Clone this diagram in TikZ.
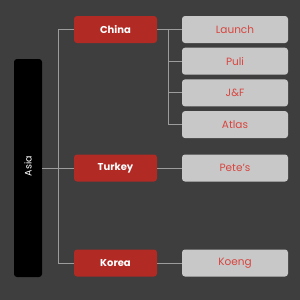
\documentclass[tikz,border=0pt]{standalone}
\usepackage{fontspec}
\setmainfont{Poppins}
\usetikzlibrary{positioning}
\definecolor{Back}{HTML}{3E3E3E}
\definecolor{Brick}{HTML}{B12A24}
\definecolor{Pale}{HTML}{C8C8C8}
\definecolor{PaleText}{HTML}{D8453F}
\definecolor{Wire}{HTML}{9C9C9C}
\begin{document}
\begin{tikzpicture}[x=1pt,y=-1pt,
    region/.style={fill=black,rounded corners=3pt,minimum width=28pt,minimum height=218pt,inner sep=0pt},
    country/.style={fill=Brick,rounded corners=3pt,minimum width=83pt,minimum height=27pt,inner sep=0pt,text=white,font=\fontsize{10}{12}\selectfont\bfseries},
    brand/.style={fill=Pale,rounded corners=3pt,minimum width=106pt,minimum height=27pt,inner sep=0pt,text=PaleText,font=\fontsize{10.5}{12}\selectfont},
    wire/.style={draw=Wire,line width=0.9pt}]
      \fill[Back] (0,0) rectangle (300,300);
      \useasboundingbox (0,0) rectangle (300,300);
      \node[region] (asia) at (28,168){};
      \node[rotate=90,text=white,font=\fontsize{9.5}{11}\selectfont] (asialabel) at (28,166){Asia};
      \node[country] (china) at (115.5,29.5){China};
      \node[country] (turkey) at (115.5,168){Turkey};
      \node[country] (korea) at (115.5,263){Korea};
      \node[brand] (launch) at (235,29.5){Launch};
      \node[brand] (puli) at (235,61.2){Puli};
      \node[brand] (jf) at (235,92.9){J\&F};
      \node[brand] (atlas) at (235,124.6){Atlas};
      \node[brand] (petes) at (235,168){Pete's};
      \node[brand] (koeng) at (235,263){Koeng};
      \coordinate (trunk) at (58,29.5);
      \coordinate (chinafork) at (168,29.5);
      % asia to countries
      \draw[wire] (china.west) -- (trunk) |- (korea.west);
      \draw[wire] (asia.east) -- (turkey.west);
      % countries to brands
      \draw[wire] (china.east) -- (launch.west);
      \draw[wire] (chinafork) |- (atlas.west);
      \draw[wire] (chinafork |- puli) -- (puli.west);
      \draw[wire] (chinafork |- jf) -- (jf.west);
      \draw[wire] (turkey.east) -- (petes.west);
      \draw[wire] (korea.east) -- (koeng.west);
    \end{tikzpicture}
\end{document}
